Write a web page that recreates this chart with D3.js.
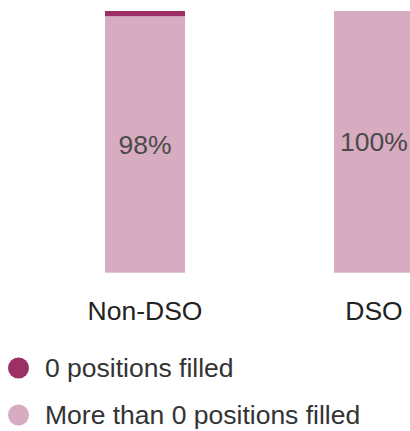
<!DOCTYPE html>
<html>
<head>
<meta charset="utf-8">
<script src="https://cdn.jsdelivr.net/npm/d3@7"></script>
<style>
  html, body { margin: 0; padding: 0; background: #fff; }
  svg { display: block; font-family: "Liberation Sans", Arial, sans-serif; }
</style>
</head>
<body>
<svg id="chart" width="410" height="431"></svg>
<script>
// Share of groups by number of positions filled
const categories = ["Non-DSO", "DSO"];
const seriesNames = ["0 positions filled", "More than 0 positions filled"];
const zeroFilled = [2, 0];
const moreThanZero = [98, 100];
const colors = ["#9c3064", "#d8acc0"];
const fontSize = 26.5;

const svg = d3.select("#chart");

const x = d3.scaleBand()
  .domain(categories)
  .range([105, 414])
  .paddingInner(1 - 80 / 229)
  .paddingOuter(0);

const y = d3.scaleLinear().domain([0, 100]).range([272.7, 11]);

const rows = categories.map((c, i) => ({ cat: c, zero: zeroFilled[i], more: moreThanZero[i] }));
// "more" sits at the bottom, "zero" on top
const stack = d3.stack().keys(["more", "zero"])(rows);

const layer = svg.selectAll("g.layer")
  .data(stack)
  .join("g")
  .attr("class", "layer")
  .attr("fill", d => d.key === "zero" ? colors[0] : colors[1]);

layer.selectAll("rect")
  .data(d => d)
  .join("rect")
  .attr("x", d => x(d.data.cat))
  .attr("width", x.bandwidth())
  .attr("y", d => y(d[1]))
  .attr("height", d => y(d[0]) - y(d[1]));

// value labels on the larger segment
svg.append("g")
  .selectAll("text")
  .data(stack.find(s => s.key === "more"))
  .join("text")
  .attr("x", d => x(d.data.cat) + x.bandwidth() / 2)
  .attr("y", d => (y(d[0]) + y(d[1])) / 2)
  .attr("dy", "0.35em")
  .attr("text-anchor", "middle")
  .attr("font-size", fontSize)
  .attr("fill", "#4a4a4a")
  .text(d => d.data.more + "%");

// category axis
const axis = svg.append("g")
  .attr("transform", "translate(0,272.7)")
  .call(d3.axisBottom(x).tickSize(0).tickPadding(0));
axis.select(".domain").remove();
axis.selectAll("text")
  .attr("y", 47)
  .attr("dy", 0)
  .attr("font-size", fontSize)
  .attr("font-family", "Liberation Sans, Arial, sans-serif")
  .attr("fill", "#222");

// legend
const legend = svg.append("g")
  .selectAll("g")
  .data(seriesNames)
  .join("g")
  .attr("transform", (d, i) => `translate(18.5,${368 + i * 47})`);
legend.append("circle")
  .attr("r", 10.5)
  .attr("fill", (d, i) => colors[i]);
legend.append("text")
  .attr("x", 26.5)
  .attr("y", 9)
  .attr("font-size", fontSize)
  .attr("fill", "#333")
  .text(d => d);
</script>
</body>
</html>
